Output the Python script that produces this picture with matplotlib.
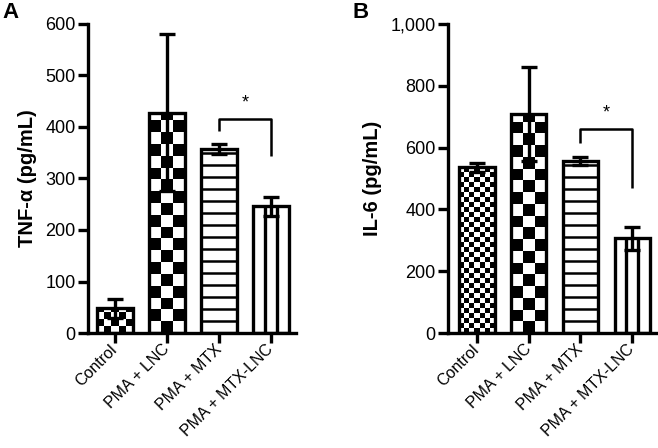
import numpy as np
import matplotlib
matplotlib.use('Agg')
import matplotlib.pyplot as plt
from matplotlib.ticker import FuncFormatter

plt.rcParams['font.family'] = ['Liberation Sans', 'DejaVu Sans']

# data
groups = ['Control', 'PMA + LNC', 'PMA + MTX', 'PMA + MTX-LNC']
tnf_mean = [48, 428, 357, 246]
tnf_err = [18, 152, 10, 19]
il6_mean = [536, 708, 556, 306]
il6_err = [15, 152, 12, 38]
tnf_ticks = [0, 100, 200, 300, 400, 500, 600]
il6_ticks = [0, 200, 400, 600, 800, 1000]
# significance bracket PMA + MTX vs PMA + MTX-LNC: top, left leg end, right leg end
tnf_bracket = [415, 393, 344]
il6_bracket = [660, 614, 468]

W, H = 658, 448
LW = 2.4


def fill_pattern(ax, bar, kind, n, ppx, ppy):
    # draws the fill pattern inside one bar, clipped to it
    x0, w, h = bar.get_x(), bar.get_width(), bar.get_height()
    wpx = w * ppx
    if kind == 'checker':
        cell = wpx / n
        nrow = int(np.ceil(h * ppy / cell)) + 1
        arr = np.indices((nrow, n)).sum(0) % 2
        im = ax.imshow(arr, cmap='Greys', vmin=0, vmax=1, origin='lower',
                       extent=(x0, x0 + w, 0, nrow * cell / ppy),
                       aspect='auto', interpolation='nearest', zorder=2)
        im.set_clip_path(bar)
    elif kind == 'hlines':
        dy = n / ppy
        ys = np.arange(dy, h, dy)
        lc = ax.hlines(ys, x0, x0 + w, colors='black', lw=1.8, zorder=2)
        lc.set_clip_path(bar)
    elif kind == 'vlines':
        xs = [x0 + w / 3, x0 + 2 * w / 3]
        lc = ax.vlines(xs, 0, h, colors='black', lw=LW, zorder=2)
        lc.set_clip_path(bar)


def panel(ax, means, errs, ticks, bracket, ylabel, xlim, fmt, checks):
    x = np.arange(len(groups))
    ax.set_xlim(*xlim)
    ax.set_ylim(0, ticks[-1])
    pos = ax.get_position()
    ppx = pos.width * W / (xlim[1] - xlim[0])
    ppy = pos.height * H / ticks[-1]

    bars = ax.bar(x, means, width=0.68, color='white', edgecolor='none', zorder=1)
    kinds = [('checker', checks[0]), ('checker', checks[1]), ('hlines', 12), ('vlines', 3)]
    for b, (k, n) in zip(bars, kinds):
        fill_pattern(ax, b, k, n, ppx, ppy)
    ax.bar(x, means, width=0.68, fill=False, edgecolor='black', linewidth=LW, zorder=3)
    ax.errorbar(x, means, yerr=errs, fmt='none', ecolor='black', elinewidth=LW,
                capsize=5.5, capthick=LW, zorder=4)

    # bracket
    xl, xr = x[2], x[3]
    ax.plot([xl, xl, xr, xr], [bracket[1], bracket[0], bracket[0], bracket[2]],
            color='black', lw=1.8, zorder=4, solid_capstyle='butt')
    ax.text((xl + xr) / 2, bracket[0] + ticks[-1] * 0.025, '*', ha='center',
            va='bottom', fontsize=13)

    ax.set_xlim(*xlim)
    ax.set_ylim(0, ticks[-1])
    ax.set_yticks(ticks)
    ax.yaxis.set_major_formatter(FuncFormatter(fmt))
    ax.set_xticks(x)
    ax.set_xticklabels(groups, rotation=45, ha='right', va='center',
                       rotation_mode='anchor', fontsize=11.5)
    ax.tick_params(axis='y', labelsize=13, length=7, width=LW, pad=2)
    ax.tick_params(axis='x', length=7, width=LW, pad=3)
    for s in ['top', 'right']:
        ax.spines[s].set_visible(False)
    for s in ['left', 'bottom']:
        ax.spines[s].set_linewidth(LW)
    ax.set_ylabel(ylabel, fontsize=14.5, fontweight='bold', labelpad=6)
    return ax


fig = plt.figure(figsize=(W / 100, H / 100), dpi=100)
axA = fig.add_axes([88 / W, 1 - 333 / H, 208 / W, 309 / H])
axB = fig.add_axes([448 / W, 1 - 333 / H, 209 / W, 309 / H])

panel(axA, tnf_mean, tnf_err, tnf_ticks, tnf_bracket, 'TNF-\u03b1 (pg/mL)',
      (-0.52, 3.48), lambda v, p: '%d' % v, (5, 3))
panel(axB, il6_mean, il6_err, il6_ticks, il6_bracket, 'IL-6 (pg/mL)',
      (-0.56, 3.48), lambda v, p: '{:,.0f}'.format(v), (7, 3))

fig.text(2 / W, 1 - 2 / H, 'A', fontsize=16, fontweight='bold', ha='left', va='top')
fig.text(352 / W, 1 - 2 / H, 'B', fontsize=16, fontweight='bold', ha='left', va='top')

fig.savefig('out.png', dpi=100)
